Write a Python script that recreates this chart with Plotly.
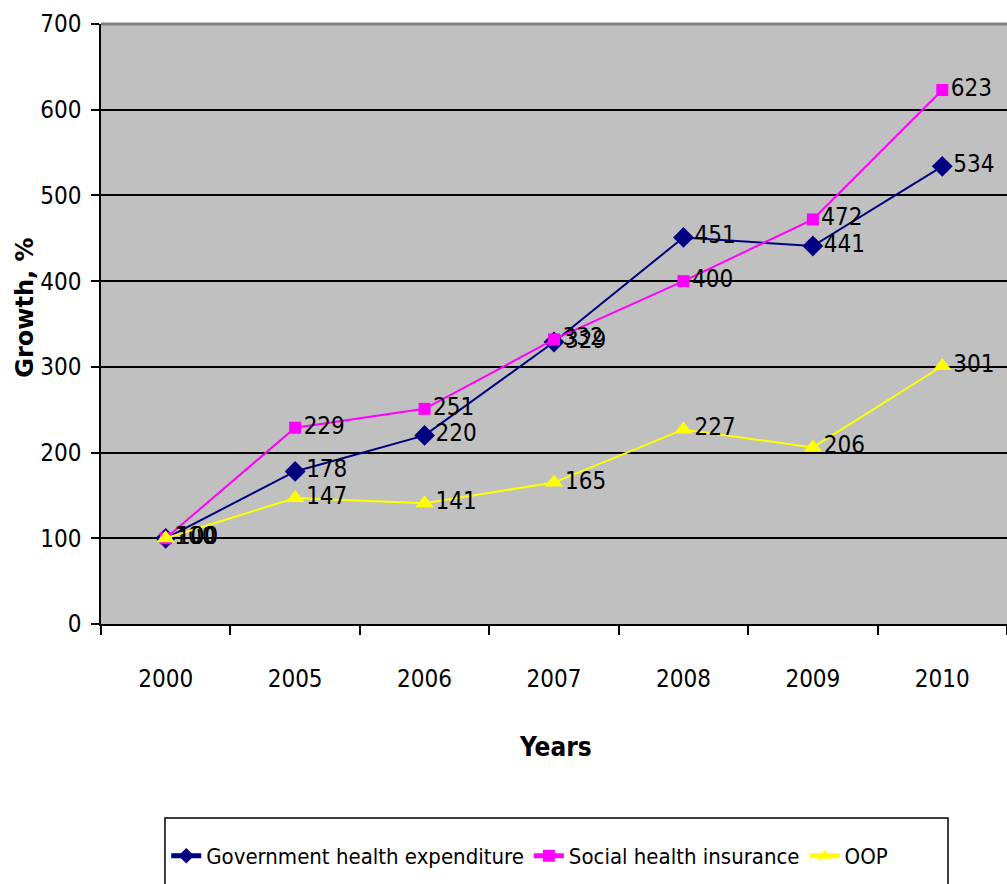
import plotly.graph_objects as go

years = ["2000", "2005", "2006", "2007", "2008", "2009", "2010"]
gov = [100, 178, 220, 329, 451, 441, 534]
shi = [100, 229, 251, 332, 400, 472, 623]
oop = [100, 147, 141, 165, 227, 206, 301]
y_ticks = [0, 100, 200, 300, 400, 500, 600, 700]
grid_vals = [100, 200, 300, 400, 500, 600]

FONT = "DejaVu Sans Condensed, Liberation Sans Narrow, Arial Narrow, sans-serif"

fig = go.Figure()
series = [
    ("Government health expenditure", gov, "#000080", "diamond", 16),
    ("Social health insurance", shi, "#FF00FF", "square", 12),
    ("OOP", oop, "#FFFF00", "triangle-up", 16),
]
for name, vals, col, sym, sz in series:
    fig.add_trace(go.Scatter(
        x=years, y=vals, name=name, mode="lines+markers+text",
        line=dict(color=col, width=2),
        marker=dict(symbol=sym, size=sz, color=col),
        text=[str(v) for v in vals], textposition="middle right",
        textfont=dict(family=FONT, size=24, color="black"),
        cliponaxis=False,
    ))

fig.add_trace(go.Scatter(x=[years[0]], y=[0], yaxis="y2", showlegend=False,
                         mode="markers", marker=dict(opacity=0), hoverinfo="skip"))

fig.update_layout(
    width=1007, height=884,
    margin=dict(l=101, r=0, t=24, b=260, autoexpand=False),
    paper_bgcolor="white", plot_bgcolor="#C0C0C0",
    font=dict(family=FONT, size=24, color="black"),
    showlegend=True,
    legend=dict(
        orientation="h", x=0.072, y=-0.3867, xanchor="left", yanchor="middle",
        borderwidth=0, bgcolor="rgba(0,0,0,0)",
        font=dict(family=FONT, size=22), itemsizing="constant",
    ),
    xaxis=dict(
        type="category", showgrid=False, showline=True, linecolor="black", linewidth=2,
        ticks="outside", tickson="boundaries", ticklen=9, tickcolor="black", tickwidth=1.5,
        ticklabelstandoff=32, tickfont=dict(family=FONT, size=24),
        range=[-0.5, 6.5],
    ),
    yaxis=dict(
        range=[0, 700], tickvals=y_ticks, showgrid=False, zeroline=False,
        showline=True, linecolor="black", linewidth=1.5,
        ticks="outside", ticklen=8, tickcolor="black", tickwidth=1.5,
        ticklabelstandoff=5, tickfont=dict(family=FONT, size=24),
    ),
    yaxis2=dict(
        overlaying="y", matches="y", range=[0, 700], tickvals=grid_vals,
        showgrid=True, gridcolor="black", gridwidth=2, showticklabels=False,
        ticks="", zeroline=False, showline=False,
    ),
    shapes=[
        dict(type="line", xref="paper", yref="paper", x0=0, x1=1, y0=1, y1=1,
             line=dict(color="#808080", width=3), layer="below"),
        dict(type="rect", xref="paper", yref="paper", x0=0.0706, x1=0.9349,
             y0=-0.3233, y1=-0.46, line=dict(color="black", width=1.5),
             fillcolor="rgba(0,0,0,0)", layer="above"),
    ],
    annotations=[
        dict(text="<b>Growth, %</b>", xref="paper", yref="paper", x=-0.0839, y=0.527,
             textangle=-90, showarrow=False, xanchor="center", yanchor="middle",
             font=dict(family="DejaVu Sans, Verdana, sans-serif", size=24)),
        dict(text="<b>Years</b>", xref="paper", yref="paper", x=0.502, y=-0.205,
             showarrow=False, xanchor="center", yanchor="middle",
             font=dict(family=FONT, size=26)),
    ],
)
fig.write_html("out.html")
